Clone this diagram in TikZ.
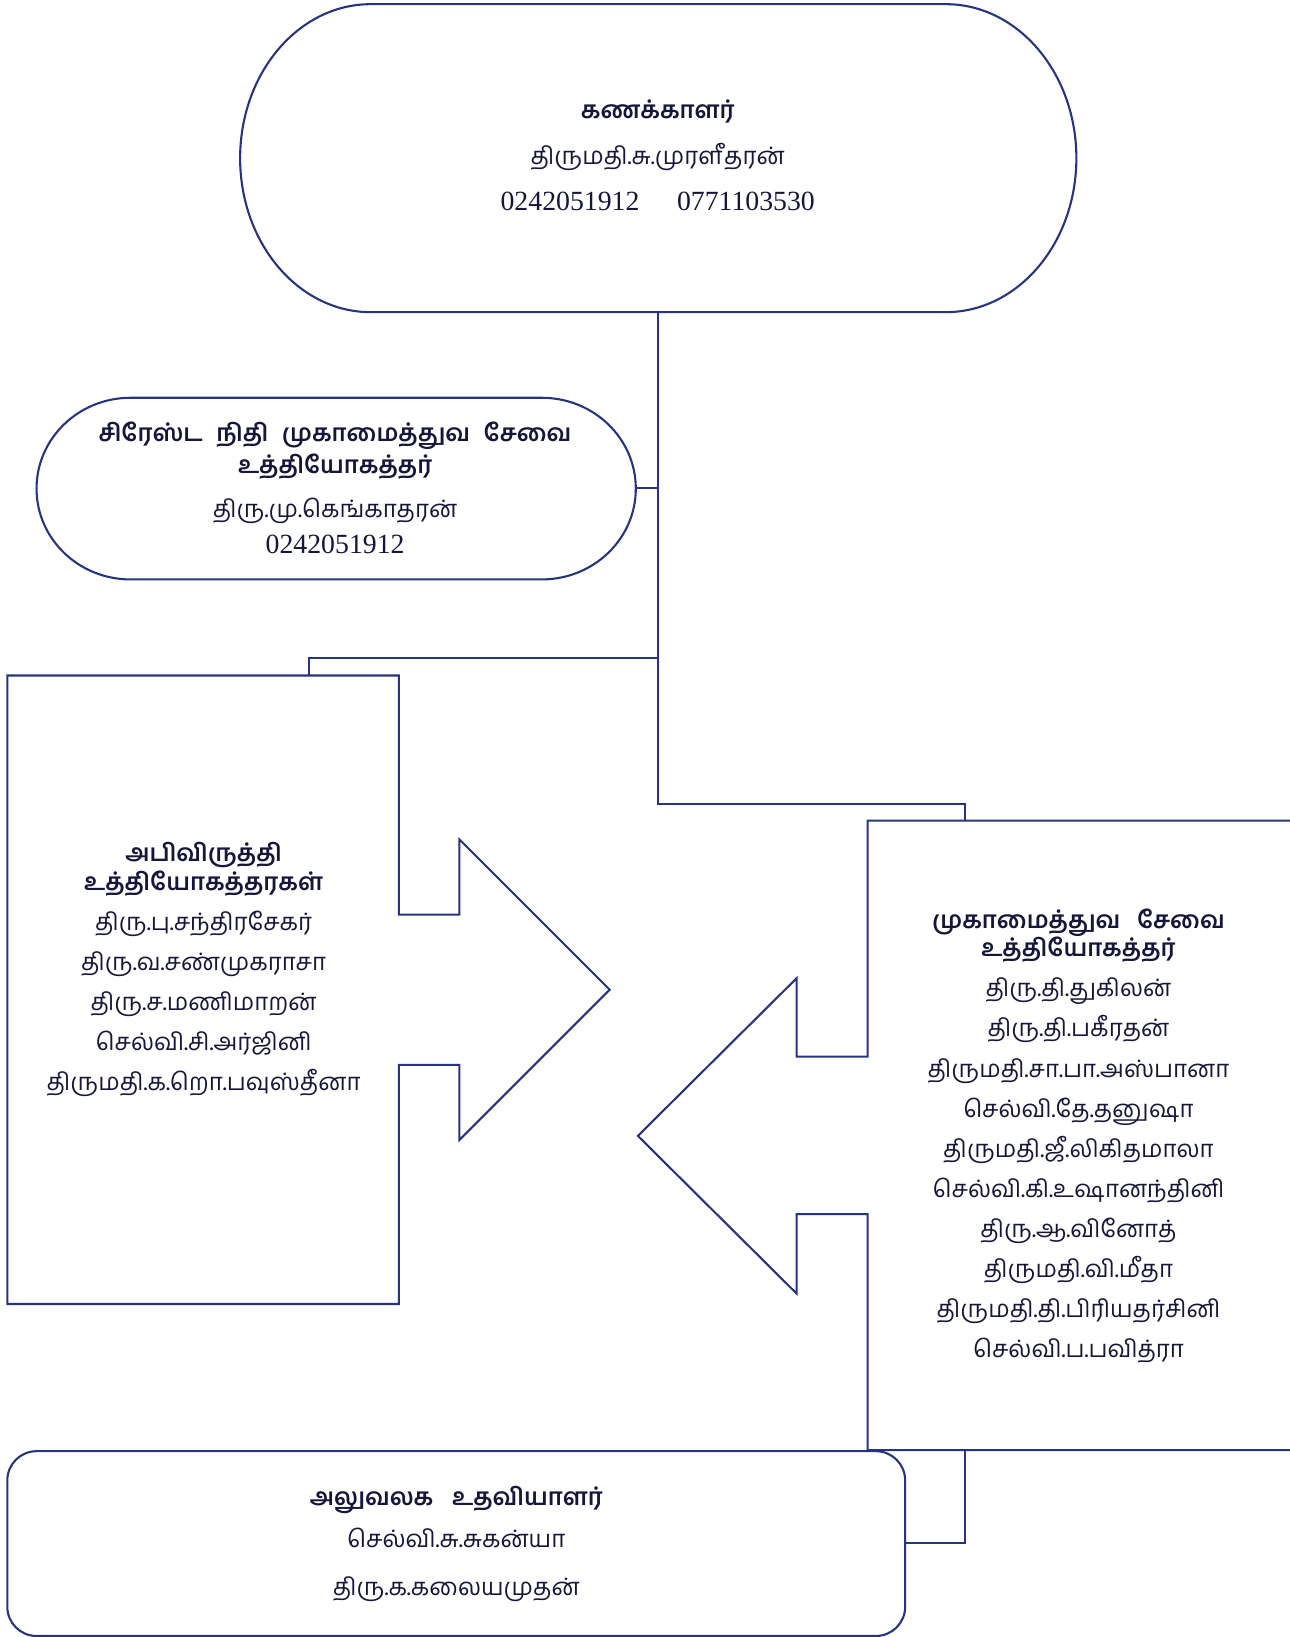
\documentclass[tikz,border=0pt]{standalone}
\usepackage{fontspec}
\setmainfont{Liberation Serif}
\newfontfamily\tamil[Script=Tamil]{Hind Madurai}
\usetikzlibrary{positioning}
\definecolor{navy}{RGB}{38,52,128}
\definecolor{ink}{RGB}{22,22,58}
\newcommand{\hdr}[1]{{\bfseries #1}}
\newcommand{\phone}[1]{{\rmfamily\fontsize{13.3}{13.3}\selectfont #1}}

\begin{document}
\setlength{\lineskiplimit}{-50pt}
\begin{tikzpicture}[x=0.5pt, y=-0.5pt,
outline/.style={draw=navy, line width=1pt},
link/.style={draw=navy, line width=1pt},
label/.style={text=ink, align=center, inner sep=0pt,
  font=\tamil\fontsize{11.5}{19.2}\selectfont}]

\useasboundingbox (0,0) rectangle (1235,1568);

% outlines
\draw[outline] (355,4) -- (906,4) arc[start angle=-90, end angle=90, x radius=125, y radius=147.5]
  -- (355,299) arc[start angle=90, end angle=270, x radius=125, y radius=147.5] -- cycle;
\draw[outline] (125,381) -- (519,381) arc[start angle=-90, end angle=90, x radius=90, y radius=87]
  -- (125,555) arc[start angle=90, end angle=270, x radius=90, y radius=87] -- cycle;
\draw[outline] (7,647) -- (382,647) -- (382,876) -- (440,876) -- (440,804) -- (584,948)
  -- (440,1092) -- (440,1020) -- (382,1020) -- (382,1249) -- (7,1249) -- cycle;
\draw[outline] (1250,786) -- (831,786) -- (831,1012) -- (763,1012) -- (763,937) -- (611,1088)
  -- (763,1239) -- (763,1163) -- (831,1163) -- (831,1389) -- (1250,1389);
\draw[outline, rounded corners=14pt] (7,1390) rectangle (867,1567);

% texts
\node[label, font=\tamil\fontsize{11.5}{22}\selectfont] (acct) at (630,149)
  {\hdr{கணக்காளர்}\\ திருமதி.சு.முரளீதரன்\\ \phone{0242051912\hspace{18pt}0771103530}};
\node[label, font=\tamil\fontsize{11.5}{17}\selectfont] (senior) at (321,467)
  {\hdr{சிரேஸ்ட\hspace{6.5pt}நிதி\hspace{6.5pt}முகாமைத்துவ\hspace{6.5pt}சேவை}\\[-1.5pt]
   \hdr{உத்தியோகத்தர்}\\[4pt] திரு.மு.கெங்காதரன்\\ \phone{0242051912}};
\node[label] (dev) at (195,929)
  {\hdr{அபிவிருத்தி}\\[-5.5pt] \hdr{உத்தியோகத்தரகள்}\\ திரு.பு.சந்திரசேகர்\\ திரு.வ.சண்முகராசா\\
   திரு.ச.மணிமாறன்\\ செல்வி.சி.அர்ஜினி\\ திருமதி.க.றொ.பவுஸ்தீனா};
\node[label] (mgmt) at (1033,1088)
  {\hdr{முகாமைத்துவ\hspace{8pt}சேவை}\\[-5.5pt] \hdr{உத்தியோகத்தர்}\\ திரு.தி.துகிலன்\\ திரு.தி.பகீரதன்\\
   திருமதி.சா.பா.அஸ்பானா\\ செல்வி.தே.தனுஷா\\ திருமதி.ஜீ.லிகிதமாலா\\ செல்வி.கி.உஷானந்தினி\\
   திரு.ஆ.வினோத்\\ திருமதி.வி.மீதா\\ திருமதி.தி.பிரியதர்சினி\\ செல்வி.ப.பவித்ரா};
\node[label, font=\tamil\fontsize{11.5}{20}\selectfont] (office) at (437,1479)
  {\hdr{அலுவலக\hspace{9pt}உதவியாளர்}\\ செல்வி.சு.சுகன்யா\\[3pt] திரு.க.கலையமுதன்};

% connector ends
\coordinate (acct-s) at (630,299);
\coordinate (senior-e) at (609,467);
\coordinate (dev-n) at (296,647);
\coordinate (mgmt-n) at (924,786);
\coordinate (mgmt-s) at (924,1389);
\coordinate (office-e) at (867,1478);
\coordinate (bend-l) at (630,630);
\coordinate (bend-r) at (630,770);

\draw[link] (acct-s) -- (bend-r) -| (mgmt-n);
\draw[link] (senior-e) -- (senior-e -| acct-s);
\draw[link] (bend-l) -| (dev-n);
\draw[link] (mgmt-s) |- (office-e);

\end{tikzpicture}
\end{document}
